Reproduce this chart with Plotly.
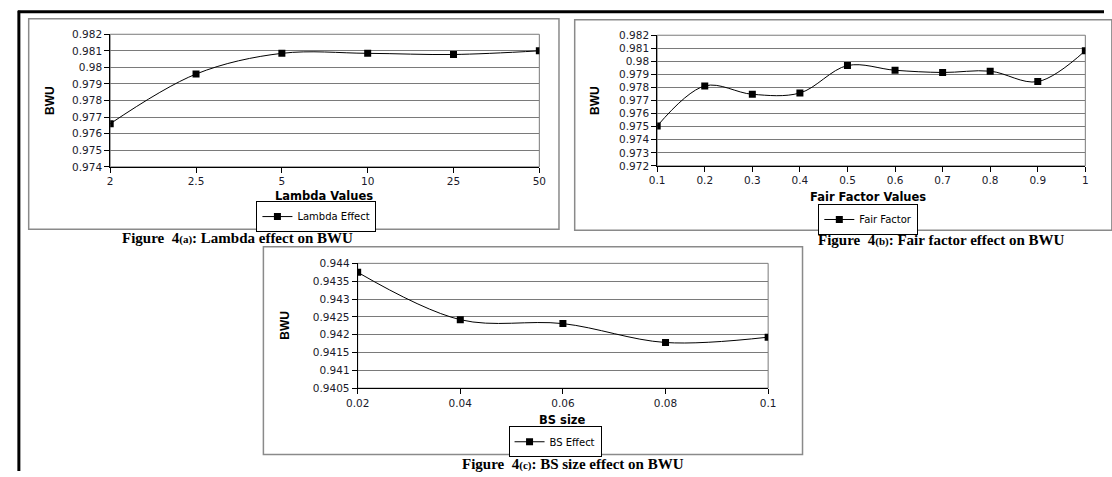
import plotly.graph_objects as go

W, H = 1112, 477

# ---------------- data ----------------
lambda_cats = ["2", "2.5", "5", "10", "25", "50"]
lambda_bwu = [0.9766, 0.9796, 0.98085, 0.98085, 0.98078, 0.9810]

fair_x = [0.1, 0.2, 0.3, 0.4, 0.5, 0.6, 0.7, 0.8, 0.9, 1.0]
fair_bwu = [0.97505, 0.97812, 0.97748, 0.97758, 0.97968, 0.97932, 0.97915, 0.97925, 0.97845, 0.98082]

bs_x = [0.02, 0.04, 0.06, 0.08, 0.1]
bs_bwu = [0.94375, 0.94242, 0.94231, 0.94178, 0.94193]

ya_ticks = [0.974, 0.975, 0.976, 0.977, 0.978, 0.979, 0.980, 0.981, 0.982]
ya_text = ["0.974", "0.975", "0.976", "0.977", "0.978", "0.979", "0.98", "0.981", "0.982"]
yb_ticks = [0.972, 0.973, 0.974, 0.975, 0.976, 0.977, 0.978, 0.979, 0.980, 0.981, 0.982]
yb_text = ["0.972", "0.973", "0.974", "0.975", "0.976", "0.977", "0.978", "0.979", "0.98", "0.981", "0.982"]
yc_ticks = [0.9405, 0.941, 0.9415, 0.942, 0.9425, 0.943, 0.9435, 0.944]
yc_text = ["0.9405", "0.941", "0.9415", "0.942", "0.9425", "0.943", "0.9435", "0.944"]
xb_text = ["0.1", "0.2", "0.3", "0.4", "0.5", "0.6", "0.7", "0.8", "0.9", "1"]
xc_text = ["0.02", "0.04", "0.06", "0.08", "0.1"]

# ---------------- helpers ----------------
def px(x):
    return x / W

def py(y):
    return 1 - y / H

TICKFONT = dict(family="DejaVu Sans, Verdana", size=10.5, color="#1a1a2a")
BOLD = "DejaVu Sans, Verdana"

fig = go.Figure()

line_style = dict(color="black", width=1, shape="spline", smoothing=1)
marker_style = dict(symbol="square", size=7, color="black")

fig.add_trace(go.Scatter(x=lambda_cats, y=lambda_bwu, mode="lines+markers", name="Lambda Effect",
                         line=line_style, marker=marker_style, xaxis="x", yaxis="y", legend="legend"))
fig.add_trace(go.Scatter(x=fair_x, y=fair_bwu, mode="lines+markers", name="Fair Factor",
                         line=line_style, marker=marker_style, xaxis="x2", yaxis="y2", legend="legend2"))
fig.add_trace(go.Scatter(x=bs_x, y=bs_bwu, mode="lines+markers", name="BS Effect",
                         line=line_style, marker=marker_style, xaxis="x3", yaxis="y3", legend="legend3"))

common_x = dict(showline=True, linecolor="black", linewidth=1, ticks="outside", ticklen=5,
                tickcolor="black", showgrid=False, zeroline=False, tickfont=TICKFONT, fixedrange=True)
common_y = dict(showline=True, linecolor="black", linewidth=1, ticks="outside", ticklen=5,
                tickcolor="black", showgrid=True, gridcolor="#7a7a7a", gridwidth=1, zeroline=False,
                tickfont=TICKFONT, fixedrange=True)

# panel domains (pixels)
A = dict(x0=100, x1=537, y0=29, y1=165)
B = dict(x0=657, x1=1093, y0=30, y1=164)
C = dict(x0=352, x1=770, y0=264, y1=392)

def dom(p):
    return [px(p["x0"]), px(p["x1"])], [py(p["y1"]), py(p["y0"])]

ax, ay = dom(A)
bx, by = dom(B)
cx, cy = dom(C)

fig.update_layout(
    xaxis=dict(common_x, type="category", domain=ax, anchor="y", range=[0, len(lambda_cats) - 1]),
    yaxis=dict(common_y, domain=ay, anchor="x", range=[0.974, 0.982], tickvals=ya_ticks, ticktext=ya_text),
    xaxis2=dict(common_x, domain=bx, anchor="y2", range=[0.1, 1.0], tickvals=fair_x, ticktext=xb_text),
    yaxis2=dict(common_y, domain=by, anchor="x2", range=[0.972, 0.982], tickvals=yb_ticks, ticktext=yb_text),
    xaxis3=dict(common_x, domain=cx, anchor="y3", range=[0.02, 0.1], tickvals=bs_x, ticktext=xc_text),
    yaxis3=dict(common_y, domain=cy, anchor="x3", range=[0.9405, 0.944], tickvals=yc_ticks, ticktext=yc_text),
)

legend_common = dict(bordercolor="black", borderwidth=1, bgcolor="white",
                     font=dict(family="DejaVu Sans, Verdana", size=10, color="black"),
                     xanchor="center", yanchor="middle", xref="paper", yref="paper",
                     tracegroupgap=0, itemclick=False, itemdoubleclick=False, itemwidth=30)
fig.update_layout(
    showlegend=True,
    legend=dict(legend_common, x=px(310), y=py(216)),
    legend2=dict(legend_common, x=px(872), y=py(219)),
    legend3=dict(legend_common, x=px(553), y=py(447)),
)

shapes = []
# outer black frame lines
shapes.append(dict(type="line", xref="paper", yref="paper", x0=px(6), x1=1, y0=py(6), y1=py(6),
                   line=dict(color="black", width=3)))
shapes.append(dict(type="line", xref="paper", yref="paper", x0=px(7), x1=px(7), y0=py(5), y1=0,
                   line=dict(color="black", width=3)))
# chart boxes
box_line = dict(color="#8a8a8a", width=1.5)
shapes.append(dict(type="rect", xref="paper", yref="paper", x0=px(17), x1=px(557), y0=py(229), y1=py(13), line=box_line))
shapes.append(dict(type="rect", xref="paper", yref="paper", x0=px(573), x1=px(1120), y0=py(230), y1=py(14), line=box_line))
shapes.append(dict(type="rect", xref="paper", yref="paper", x0=px(256), x1=px(805), y0=py(460), y1=py(247), line=box_line))
# plot area borders (top/right)
for xr, yr in [("x", "y"), ("x2", "y2"), ("x3", "y3")]:
    shapes.append(dict(type="rect", xref=f"{xr} domain", yref=f"{yr} domain", x0=0, x1=1, y0=0, y1=1,
                       line=dict(color="#7a7a7a", width=1), layer="below"))
fig.update_layout(shapes=shapes)

ann = []
def text(x, y, s, size, family=BOLD, bold=True, angle=0):
    ann.append(dict(xref="paper", yref="paper", x=px(x), y=py(y), text=(f"<b>{s}</b>" if bold else s),
                    showarrow=False, xanchor="center", yanchor="middle", textangle=angle,
                    font=dict(family=family, size=size, color="black")))

text(318, 195, "Lambda Values", 11.5)
text(872, 196, "Fair Factor Values", 11.5)
text(561, 425, "BS size", 11.5)
text(38, 97, "BWU", 12, family="Liberation Sans Narrow, Liberation Sans, Arial", angle=-90)
text(593, 97, "BWU", 12, family="Liberation Sans Narrow, Liberation Sans, Arial", angle=-90)
text(278, 328, "BWU", 12, family="Liberation Sans Narrow, Liberation Sans, Arial", angle=-90)

SERIF = "Liberation Serif, Times New Roman"
def cap(x, y, letter, rest):
    s = f"Figure  4<span style='font-size:11px'>({letter})</span>: {rest}"
    text(x, y, s, 15, family=SERIF)

cap(230, 238, "a", "Lambda effect on BWU")
cap(946, 240, "b", "Fair factor effect on BWU")
cap(571, 470, "c", "BS size effect on BWU")
fig.update_layout(annotations=ann)

fig.update_layout(width=W, height=H, margin=dict(l=0, r=0, t=0, b=0),
                  paper_bgcolor="white", plot_bgcolor="white")

fig.write_html("out.html", config={"displayModeBar": False},
               post_script="document.body.style.margin='0';document.body.style.overflow='hidden';")
